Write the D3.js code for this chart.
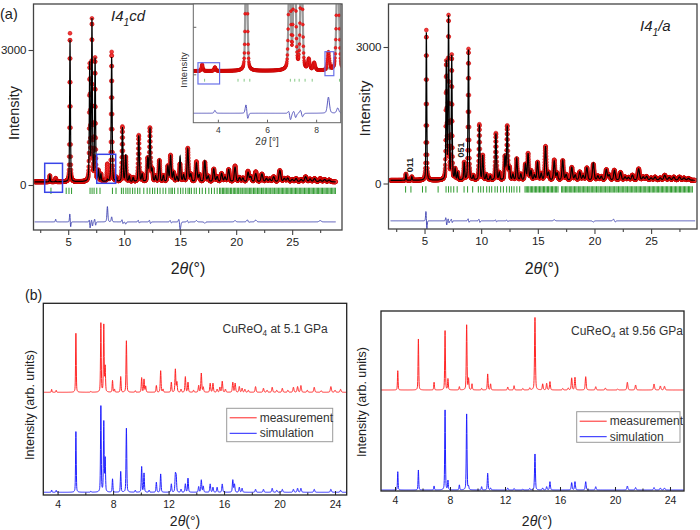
<!DOCTYPE html>
<html><head><meta charset="utf-8">
<script src="https://cdn.jsdelivr.net/npm/d3@7/dist/d3.min.js"></script>
<style>
body{margin:0;background:#fff;}
svg{display:block;font-family:"Liberation Sans",Arial,sans-serif;}
</style></head><body>
<svg id="fig" width="700" height="530"></svg>
<script>
// ================= DATA =================
// (a) observed powder pattern: background + peaks [2theta, intensity above background]
const obsBackground = 70;
const obsPeaks = [
 [3.36,140],[3.88,80],[5.16,3300],[6.92,2560],[7.12,3560],[7.4,2720],[7.7,230],[7.92,160],[8.5,380],
 [8.88,2880],[9.3,90],[9.84,1220],[10.14,540],[10.45,120],[10.8,90],[11.3,1030],[11.6,160],[12.1,500],
 [12.3,1180],[12.5,260],[12.8,120],[13.14,470],[13.5,130],[13.9,340],[14.14,580],[14.4,200],[14.7,110],
 [14.98,390],[15.3,140],[15.68,740],[15.95,160],[16.45,440],[16.7,150],[17.2,430],[17.5,120],[18.0,280],
 [18.3,110],[18.7,180],[19.0,100],[19.33,270],[19.9,350],[20.3,90],[20.6,80],[21.05,230],[21.3,110],
 [21.75,220],[22.3,170],[22.7,70],[23.0,60],[23.35,110],[23.9,250],[24.3,70],[24.6,80],[25.0,50],
 [25.35,70],[25.8,50],[26.2,110],[26.6,60],[27.0,70],[27.5,70],[27.9,50],[28.3,40]
];
// misfit (observed - calculated) for each refinement
const misfitI41cd = [
 [3.88,60],[5.15,210],[5.21,-150],[6.9,90],[6.95,-170],[7.1,70],[7.16,-110],[7.37,80],[7.44,-90],
 [8.5,340],[8.88,110],[9.82,80],[9.87,-70],[10.14,-50],[11.27,60],[11.32,-50],[12.27,60],[12.33,-60],
 [14.12,50],[14.18,-40],[14.92,160],[14.98,-260],[15.66,50],[15.72,-40],[16.45,30],[17.2,-30],
 [19.9,30],[21.02,70],[21.08,-40],[21.75,40],[27.5,30]
];
const misfitI41a = [
 [5.13,240],[5.2,-220],[6.89,100],[6.95,-120],[7.1,70],[7.15,-70],[7.38,60],[7.43,-60],[8.86,70],
 [8.91,-60],[9.82,60],[9.87,-60],[11.28,40],[11.33,-40],[12.28,30],[12.33,-30],[16.45,25],[19.9,-25],
 [21.72,70],[21.78,-60]
];
const diffOffset = -820;
// Bragg reflection positions
const braggI41cd = [3.46,4.82,5.07,5.3,6.95,7.13,7.31,7.55,7.84,8.95,9.27,9.75,9.92,10.15,10.33,10.52,10.75,10.96,
 11.2,11.4,11.75,12.05,12.29,12.53,12.73,12.97,13.2,13.47,13.71,14.0,14.18,14.3,14.5,14.8,15.04,15.25,15.49,15.7,
 15.84,16.0,16.25,16.44,16.73,16.97,17.27,17.56,17.8,18.05,18.3,18.52,18.63,18.77,18.88,19.0,19.12,19.25,19.36,
 19.5,19.6,19.74,19.86,19.97,20.1,20.22,20.35,20.44,20.58,20.7,20.81,20.95,21.06,21.18,21.3,21.41,21.55,21.66,
 21.77,21.9,22.02,22.13,22.26,22.38,22.47,22.6,22.72,22.84,22.95,23.08,23.2,23.3,23.43,23.55,23.66,23.79,23.9,
 24.02,24.13,24.25,24.37,24.48,24.6,24.71,24.83,24.95,25.06,25.18,25.3,25.41,25.52,25.64,25.76,25.87,25.98,26.1,
 26.22,26.33,26.45,26.56,26.68,26.79,26.9,27.02,27.14,27.25,27.36,27.48,27.6,27.71,27.83,27.94,28.05,28.17,28.28,
 28.4,28.52,28.63,28.75,28.86];
const braggI41a = [3.33,3.8,4.82,5.12,6.2,6.9,7.12,7.33,7.58,7.88,8.49,8.8,9.25,9.75,9.96,10.19,10.49,10.72,10.93,
 11.22,11.43,11.72,11.96,12.25,12.49,12.69,12.9,13.15,13.4,13.87,13.98,14.1,14.2,14.33,14.45,14.55,14.68,14.8,14.9,
 15.03,15.15,15.26,15.38,15.5,15.6,15.73,15.85,15.95,16.08,16.2,16.3,16.43,16.55,16.66,16.78,17.1,17.2,17.32,17.44,
 17.55,17.66,17.78,17.9,18.0,18.12,18.24,18.35,18.46,18.58,18.7,18.8,18.92,19.04,19.15,19.26,19.38,19.5,19.6,19.72,
 19.84,19.95,20.06,20.18,20.3,20.4,20.52,20.64,20.75,20.86,20.98,21.1,21.2,21.32,21.44,21.55,21.66,21.78,21.9,22.0,
 22.12,22.24,22.35,22.46,22.58,22.7,22.8,22.92,23.04,23.15,23.26,23.38,23.5,23.6,23.72,23.84,23.95,24.06,24.18,
 24.3,24.4,24.52,24.64,24.75,24.86,24.98,25.1,25.2,25.32,25.44,25.55,25.66,25.78,25.9,26.0,26.12,26.24,26.35,26.46,
 26.58,26.7,26.8,26.92,27.04,27.15,27.26,27.38,27.5,27.6,27.72,27.84,27.95,28.06,28.18,28.3,28.4,28.52,28.64];
const xTicksA = [5,10,15,20,25];
const xMinorA = [2.5,7.5,12.5,17.5,22.5,27.5];
const yTicksA = [0,3000];
const xTicksInset = [4,6,8];
const yTicksInset = [0,1000];
// highlighted regions [x0,x1,y0,y1] in data units
const boxesMain = [[2.9,4.49,-162,482],[7.55,9.24,38,682]];
const boxesInset = [[3.19,4.07,-204,244],[8.36,8.72,-29,476]];
const hklLabels = [{hkl:"011",t:3.76,I:407},{hkl:"051",t:8.22,I:737}];

// (b) measured / simulated patterns: [2theta, relative height]
const measured51 = [[3.57,0.03],[3.9,0.02],[5.32,0.59],[6.4,0.008],[7.12,0.69],[7.33,0.67],[7.43,0.25],[7.96,0.117],
 [8.1,0.03],[8.55,0.156],[8.96,0.515],[9.6,0.015],[10.06,0.145],[10.23,0.13],[10.35,0.06],[11.12,0.067],[11.43,0.215],
 [11.6,0.03],[12.2,0.10],[12.49,0.23],[12.6,0.1],[12.9,0.03],[13.21,0.155],[13.4,0.10],[13.8,0.02],[14.17,0.067],
 [14.36,0.19],[14.5,0.05],[15.0,0.09],[15.2,0.09],[15.5,0.03],[15.7,0.05],[15.87,0.11],[16.1,0.03],[16.63,0.10],
 [16.8,0.09],[17.1,0.057],[17.3,0.04],[17.5,0.03],[17.75,0.02],[18.27,0.057],[18.84,0.04],[19.1,0.02],[19.47,0.05],
 [19.8,0.02],[20.2,0.04],[20.6,0.02],[21.0,0.05],[21.3,0.057],[21.54,0.067],[22.0,0.02],[22.5,0.05],[23.0,0.015],
 [23.7,0.057],[24.0,0.02],[24.4,0.03]];
const simulated51 = [[3.57,0.023],[3.9,0.02],[5.32,0.607],[6.4,0.01],[7.12,0.86],[7.33,0.70],[7.43,0.33],[7.96,0.133],
 [8.55,0.207],[8.96,0.64],[9.6,0.02],[10.06,0.255],[10.23,0.19],[10.6,0.02],[11.12,0.1],[11.43,0.183],[12.2,0.083],
 [12.49,0.17],[12.55,0.15],[12.9,0.03],[13.21,0.083],[13.4,0.14],[14.17,0.056],[14.36,0.123],[14.5,0.06],[15.0,0.083],
 [15.2,0.05],[15.5,0.05],[15.87,0.083],[16.63,0.123],[16.75,0.08],[17.1,0.05],[17.3,0.04],[18.27,0.03],[18.84,0.03],
 [19.47,0.04],[19.8,0.02],[20.2,0.03],[21.0,0.03],[21.3,0.04],[21.54,0.04],[22.5,0.03],[23.7,0.03],[24.4,0.02]];
const measured956 = [[4.2,0.193],[5.7,0.51],[6.84,0.077],[7.64,0.593],[7.85,0.11],[8.68,0.033],[9.21,0.65],[9.35,0.11],
 [9.6,0.06],[10.3,0.016],[10.74,0.16],[10.95,0.06],[12.2,0.03],[12.66,0.043],[13.3,0.015],[13.8,0.02],[14.18,0.725],
 [14.74,0.06],[15.03,0.066],[15.27,0.083],[16.2,0.015],[16.6,0.02],[16.85,0.12],[17.09,0.126],[17.87,0.133],[18.6,0.033],
 [19.3,0.02],[20.2,0.01],[20.9,0.077],[21.5,0.05],[22.84,0.06],[23.3,0.04],[23.6,0.037]];
const simulated956 = [[4.2,0.183],[5.7,0.2],[6.84,0.04],[7.64,0.8],[7.85,0.093],[8.68,0.05],[9.21,0.76],[9.35,0.03],
 [10.3,0.033],[10.74,0.167],[10.95,0.02],[12.2,0.02],[12.66,0.015],[13.3,0.01],[13.8,0.015],[14.18,0.36],[14.74,0.02],
 [15.03,0.033],[15.27,0.083],[16.85,0.073],[17.09,0.083],[17.87,0.083],[18.6,0.033],[20.9,0.04],[21.5,0.025],
 [22.84,0.025],[23.3,0.02],[23.6,0.02]];
const measOffset = 1.0;
const xTicksB = [4,8,12,16,20,24];
const xMinorB = [6,10,14,18,22];
const seriesNames = ["measurement","simulation"];

// ================= RENDER =================
const svg = d3.select('#fig');
const defs = svg.append('defs');
function pv(x, eta){ return eta/(1+x*x) + (1-eta)*Math.exp(-0.6931*x*x); }
function profile(peaks, t, fw, eta){
  let s = 0;
  for (const [p,h] of peaks){ const x = (t-p)/(fw(p)/2); if (Math.abs(x) < 80) s += h*pv(x, eta); }
  return s;
}
const fwA = p => 0.05 + 0.006*p;
const fwB = p => 0.045 + 0.002*p;
const gridA = d3.range(2.0, 28.9, 0.01);
const obsA = gridA.map(t => ({t, v: obsBackground + profile(obsPeaks, t, fwA, 0.35)}));
function model(misfit){
  return obsA.map(d => { const m = profile(misfit, d.t, fwA, 0.35); return {t:d.t, calc:d.v - m, diff:diffOffset + m}; });
}
const modelCd = model(misfitI41cd);
const modelA = model(misfitI41a);

let clipN = 0;
function clipRect(x,y,w,h){ const id = 'clip'+(clipN++); defs.append('clipPath').attr('id',id).append('rect').attr('x',x).attr('y',y).attr('width',w).attr('height',h); return 'url(#'+id+')'; }

function rotText(g, cx, cy, txt, size){
  return g.append('text').attr('transform',`translate(${cx},${cy}) rotate(-90)`).attr('text-anchor','middle')
   .attr('dominant-baseline','central').attr('font-size',size).attr('fill','#222').text(txt);
}
function rich(g, x, y, parts, size, anchor){
  const t = g.append('text').attr('x',x).attr('y',y).attr('font-size',size).attr('text-anchor',anchor||'start').attr('fill','#222');
  let shift = 0;
  parts.forEach(p => {
    const ts = t.append('tspan').text(p.t);
    if (p.sub){ ts.attr('font-size', size*0.68).attr('dy', size*0.3); shift = size*0.3; }
    else if (shift){ ts.attr('dy', -shift); shift = 0; }
    if (p.i) ts.attr('font-style','italic');
  });
  return t;
}

function panelA(cfg){
  const g = svg.append('g');
  const x = d3.scaleLinear().domain(cfg.dom).range([cfg.x0, cfg.x1]);
  const y = d3.scaleLinear().domain([0,3000]).range([cfg.zeroY, cfg.y3000]);
  const clip = clipRect(cfg.x0, cfg.y0, cfg.x1-cfg.x0, cfg.y1-cfg.y0);
  const pg = g.append('g').attr('clip-path', clip);
  pg.append('g').selectAll('circle').data(obsA).join('circle')
    .attr('cx', d => x(d.t)).attr('cy', d => y(d.v)).attr('r', 1.95)
    .attr('fill', '#f23a3a').attr('stroke', '#c40000').attr('stroke-width', 0.5);
  pg.append('path').datum(cfg.model).attr('fill','none').attr('stroke','#000').attr('stroke-width',1.2)
    .attr('d', d3.line().x(d => x(d.t)).y(d => y(d.calc)));
  pg.append('g').selectAll('line').data(cfg.bragg).join('line')
    .attr('x1', d => x(d)).attr('x2', d => x(d)).attr('y1', y(-60)).attr('y2', y(-200))
    .attr('stroke', '#2e9a2e').attr('stroke-width', 1);
  pg.append('path').datum(cfg.model).attr('fill','none').attr('stroke','#3b3fb0').attr('stroke-width',0.9)
    .attr('d', d3.line().x(d => x(d.t)).y(d => y(d.diff)));
  (cfg.boxes||[]).forEach(b => {
    g.append('rect').attr('x', x(b[0])).attr('y', y(b[3])).attr('width', x(b[1])-x(b[0])).attr('height', y(b[2])-y(b[3]))
     .attr('fill','none').attr('stroke','#3a45e8').attr('stroke-width',1.5);
  });
  g.append('rect').attr('x',cfg.x0).attr('y',cfg.y0).attr('width',cfg.x1-cfg.x0).attr('height',cfg.y1-cfg.y0)
    .attr('fill','none').attr('stroke','#444').attr('stroke-width',1.3);
  const ax = g.append('g').attr('transform',`translate(0,${cfg.y1})`)
    .call(d3.axisBottom(x).tickValues(xTicksA).tickSize(5).tickPadding(3).tickFormat(d3.format('d')));
  const axm = g.append('g').attr('transform',`translate(0,${cfg.y1})`)
    .call(d3.axisBottom(x).tickValues(xMinorA).tickSize(3).tickFormat(''));
  const ay = g.append('g').attr('transform',`translate(${cfg.x0},0)`)
    .call(d3.axisLeft(y).tickValues(yTicksA).tickSize(5).tickPadding(2).tickFormat(d3.format('d')));
  [ax,axm,ay].forEach(a => { a.select('.domain').remove(); a.selectAll('line').attr('stroke','#444').attr('stroke-width',1.1);
    a.selectAll('text').attr('font-size',11.5).attr('fill','#222').attr('font-family','"Liberation Sans",Arial,sans-serif'); });
  return {g,x,y};
}

// (a) left: I4_1cd
const left = panelA({x0:33.5, x1:342, y0:4, y1:230, dom:[1.9,29.45], zeroY:185, y3000:50,
  model:modelCd, bragg:braggI41cd, boxes:boxesMain});
rotText(svg, 13.5, 113, 'Intensity', 14.5);
rich(svg, 188, 274, [{t:'2'},{t:'θ',i:true},{t:'(°)'}], 16, 'middle');
rich(svg, 0, 19, [{t:'(a)'}], 14.5);
rich(svg, 111, 21, [{t:'I4',i:true},{t:'1',sub:true,i:true},{t:'cd',i:true}], 15);

// (a) right: I4_1/a
const right = panelA({x0:388.5, x1:697, y0:4, y1:229, dom:[1.82,29.05], zeroY:183.5, y3000:47,
  model:modelA, bragg:braggI41a, boxes:[]});
rotText(svg, 364.5, 108.5, 'Intensity', 15);
rich(svg, 542, 274, [{t:'2'},{t:'θ',i:true},{t:'(°)'}], 16, 'middle');
rich(svg, 640, 31, [{t:'I4',i:true},{t:'1',sub:true,i:true},{t:'/',i:true},{t:'a',i:true}], 15);
hklLabels.forEach(h => {
  svg.append('text').attr('transform',`translate(${right.x(h.t)},${right.y(h.I)}) rotate(-90)`)
    .attr('text-anchor','middle').attr('dominant-baseline','central').attr('font-size',9).attr('font-weight','bold')
    .attr('fill','#222').text(h.hkl);
});

// inset
(function(){
  const X0=193.3, X1=340.7, Y0=4, Y1=122.7;
  const g = svg.append('g');
  const x = d3.scaleLinear().domain([3,9]).range([X0,X1]);
  const y = d3.scaleLinear().domain([0,1000]).range([74.3,26.8]);
  g.append('rect').attr('x',X0).attr('y',Y0).attr('width',X1-X0).attr('height',Y1-Y0).attr('fill','#fff');
  const pg = g.append('g').attr('clip-path', clipRect(X0,Y0,X1-X0,Y1-Y0));
  const mi = modelCd.filter(d => d.t >= 2.95 && d.t <= 9.05);
  const oi = obsA.filter(d => d.t >= 2.95 && d.t <= 9.05);
  pg.append('path').datum(mi).attr('fill','none').attr('stroke','#9a9a9a').attr('stroke-width',2.2)
    .attr('d', d3.line().x(d => x(d.t)).y(d => y(d.calc)));
  pg.append('g').selectAll('circle').data(oi).join('circle')
    .attr('cx', d => x(d.t)).attr('cy', d => y(d.v)).attr('r', 1.5)
    .attr('fill','#f02020').attr('stroke','#c00000').attr('stroke-width',0.4);
  pg.append('g').selectAll('line').data(braggI41cd.filter(d => d < 9.1)).join('line')
    .attr('x1', d => x(d)).attr('x2', d => x(d)).attr('y1', y(-95)).attr('y2', y(-155))
    .attr('stroke','#86c886').attr('stroke-width',1);
  pg.append('path').datum(mi).attr('fill','none').attr('stroke','#4a4ab8').attr('stroke-width',0.9)
    .attr('d', d3.line().x(d => x(d.t)).y(d => y(d.diff)));
  boxesInset.forEach(b => {
    g.append('rect').attr('x', x(b[0])).attr('y', y(b[3])).attr('width', x(b[1])-x(b[0])).attr('height', y(b[2])-y(b[3]))
     .attr('fill','none').attr('stroke','#6a72e8').attr('stroke-width',1.2);
  });
  g.append('rect').attr('x',X0).attr('y',Y0).attr('width',X1-X0).attr('height',Y1-Y0)
    .attr('fill','none').attr('stroke','#666').attr('stroke-width',1);
  const ax = g.append('g').attr('transform',`translate(0,${Y1})`)
    .call(d3.axisBottom(x).tickValues(xTicksInset).tickSize(-3).tickPadding(4).tickFormat(d3.format('d')));
  const ay = g.append('g').attr('transform',`translate(${X0},0)`)
    .call(d3.axisLeft(y).tickValues(yTicksInset).tickSize(-3).tickFormat(''));
  [ax,ay].forEach(a => { a.select('.domain').remove(); a.selectAll('line').attr('stroke','#666');
    a.selectAll('text').attr('font-size',8.5).attr('fill','#333').attr('font-family','"Liberation Sans",Arial,sans-serif'); });
  rotText(svg, 183.5, 70, 'Intensity', 9.5).attr('fill','#333');
  rich(svg, 267, 145, [{t:'2'},{t:'θ',i:true},{t:' [°]'}], 10, 'middle').attr('fill','#333');
})();

// ================= (b) =================
function panelB(cfg){
  const g = svg.append('g');
  const x = d3.scaleLinear().domain(cfg.dom).range([cfg.x0,cfg.x1]);
  const y = d3.scaleLinear().domain(cfg.ydom).range([cfg.y1,cfg.y0]);
  const grid = d3.range(3.0, 25.0, 0.01);
  const pg = g.append('g').attr('clip-path', clipRect(cfg.x0,cfg.y0,cfg.x1-cfg.x0,cfg.y1-cfg.y0));
  const meas = grid.map(t => ({t, v: measOffset + profile(cfg.meas, t, fwB, 0.4)}));
  const sim = grid.map(t => ({t, v: profile(cfg.sim, t, fwB, 0.4)}));
  const line = d3.line().x(d => x(d.t)).y(d => y(d.v));
  pg.append('path').datum(meas).attr('fill','none').attr('stroke','#ff2424').attr('stroke-width',1).attr('d',line);
  pg.append('path').datum(sim).attr('fill','none').attr('stroke','#1f1fff').attr('stroke-width',1).attr('d',line);
  g.append('rect').attr('x',cfg.x0).attr('y',cfg.y0).attr('width',cfg.x1-cfg.x0).attr('height',cfg.y1-cfg.y0)
    .attr('fill','none').attr('stroke','#222').attr('stroke-width',1.3);
  const ax = g.append('g').attr('transform',`translate(0,${cfg.y1})`)
    .call(d3.axisBottom(x).tickValues(xTicksB).tickSize(-4).tickPadding(6).tickFormat(d3.format('d')));
  const axm = g.append('g').attr('transform',`translate(0,${cfg.y1})`)
    .call(d3.axisBottom(x).tickValues(xMinorB).tickSize(-2.5).tickFormat(''));
  [ax,axm].forEach(a => { a.select('.domain').remove(); a.selectAll('line').attr('stroke','#222');
    a.selectAll('text').attr('font-size',10.5).attr('fill','#222').attr('font-family','"Liberation Sans",Arial,sans-serif'); });
  // legend
  const L = cfg.legend;
  g.append('rect').attr('x',L.x).attr('y',L.y).attr('width',L.w).attr('height',L.h).attr('fill','#fff')
    .attr('stroke','#9a9a9a').attr('stroke-width',1);
  ['#ff2424','#1f1fff'].forEach((c,i) => {
    const ly = L.y + 9.5 + i*15.5;
    g.append('line').attr('x1',L.x+3).attr('x2',L.x+30).attr('y1',ly).attr('y2',ly).attr('stroke',c).attr('stroke-width',1);
    g.append('text').attr('x',L.x+33).attr('y',ly+4).attr('font-size',12).attr('fill','#333').text(seriesNames[i]);
  });
  rich(g, cfg.title.x, cfg.title.y, [{t:'CuReO'},{t:'4',sub:true},{t:' at '+cfg.title.p+' GPa'}], 12).attr('fill','#333');
  return {x,y};
}
panelB({x0:43.3, x1:346.7, y0:303.3, y1:495, dom:[2.97,24.84], ydom:[-0.027,1.89],
  meas:measured51, sim:simulated51, legend:{x:226.7,y:408.3,w:106,h:33.4}, title:{x:222.5,y:332.5,p:'5.1'}});
panelB({x0:381, x1:684, y0:311, y1:491, dom:[2.98,25.02], ydom:[-0.01,1.79],
  meas:measured956, sim:simulated956, legend:{x:576.7,y:411.7,w:103.3,h:30.6}, title:{x:571,y:334.5,p:'9.56'}});
rotText(svg, 30, 405, 'Intensity (arb. units)', 12.5);
rotText(svg, 362, 402, 'Intensity (arb. units)', 12.5);
rich(svg, 185, 526, [{t:'2'},{t:'θ',i:true},{t:'(°)'}], 14, 'middle');
rich(svg, 537, 526, [{t:'2'},{t:'θ',i:true},{t:'(°)'}], 14, 'middle');
rich(svg, 25, 300, [{t:'(b)'}], 14);
</script></body></html>
